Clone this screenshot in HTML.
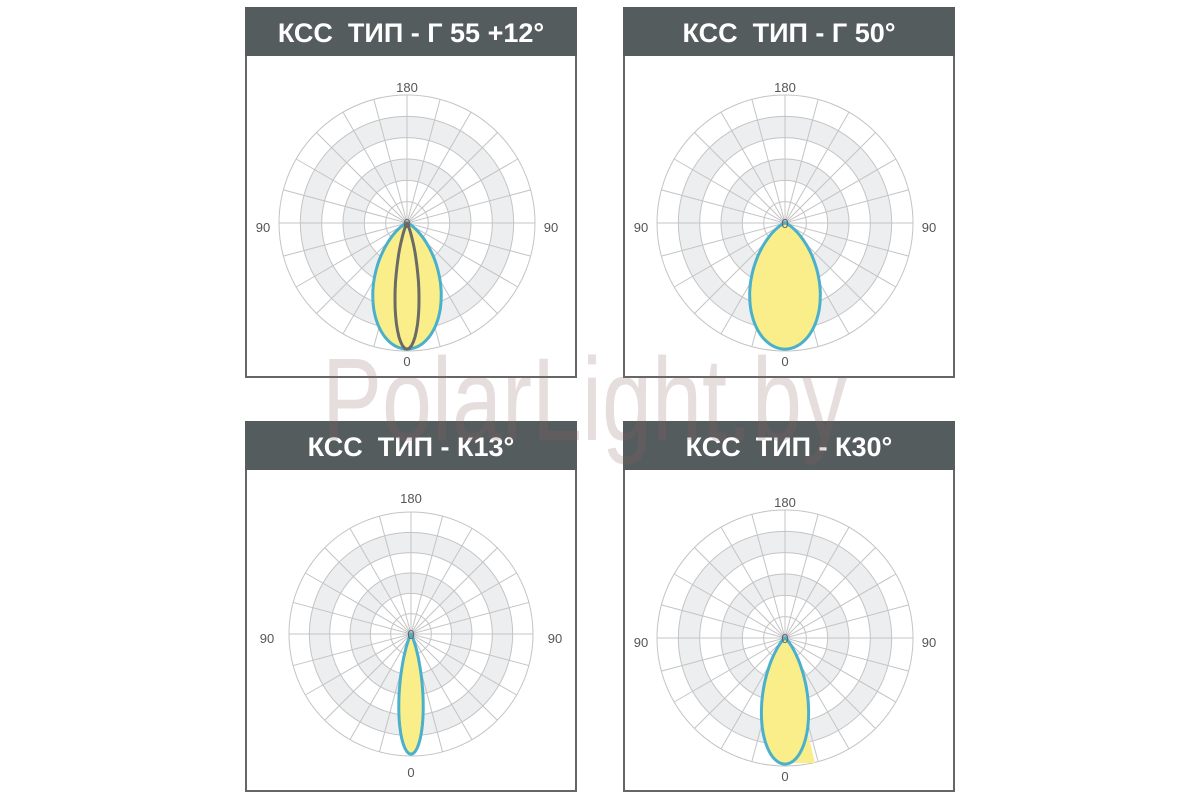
<!DOCTYPE html>
<html><head><meta charset="utf-8"><style>
html,body{margin:0;padding:0;background:#fff;width:1200px;height:800px;overflow:hidden}
svg{display:block}
</style></head><body>
<svg id="s" width="1200" height="800" xmlns="http://www.w3.org/2000/svg" font-family="Liberation Sans, DejaVu Sans, sans-serif"></svg>
<script>
const s=document.getElementById('s');
let h='';
function panel(x,y,title,cx,cy,R,n,extra){
  h+=`<rect x="${x+1}" y="${y+1}" width="330" height="369" fill="#fff" stroke="#666" stroke-width="2"/>`;
  h+=`<rect x="${x}" y="${y}" width="332" height="49" fill="#555c5d"/>`;
  h+=`<text x="${x+166}" y="${y+35}" fill="#fff" font-size="27" font-weight="bold" text-anchor="middle">${title}</text>`;
  const st=R/6;
  // shaded bands
  h+=`<circle cx="${cx}" cy="${cy}" r="${st*4.5}" fill="none" stroke="#eceef0" stroke-width="${st}"/>`;
  h+=`<circle cx="${cx}" cy="${cy}" r="${st*2.5}" fill="none" stroke="#eceef0" stroke-width="${st}"/>`;
  for(let i=1;i<=6;i++)h+=`<circle cx="${cx}" cy="${cy}" r="${st*i}" fill="none" stroke="#c4c4c4" stroke-width="1"/>`;
  for(let a=0;a<180;a+=15){const r=a*Math.PI/180;const dx=R*Math.cos(r),dy=R*Math.sin(r);
    h+=`<line x1="${cx-dx}" y1="${cy-dy}" x2="${cx+dx}" y2="${cy+dy}" stroke="#c4c4c4" stroke-width="1"/>`;}
  function lobe(n,k){let p=[];for(let t=-90;t<=90;t+=1){const r=t*Math.PI/180;const rr=R*k*Math.pow(Math.cos(r),n);p.push((cx+rr*Math.sin(r)).toFixed(1)+','+(cy+rr*Math.cos(r)).toFixed(1));}return p.join(' ');}
  if(extra==='br') h+=`<polygon points="${lobe(n,0.985)} ${cx} ${cy+2} ${cx+30} ${cy+125} ${cx} ${cy+125}" fill="#f9ee8a"/>`;
  h+=`<polygon points="${lobe(n,0.985)}" fill="#f9ee8a" stroke="#4ab0cc" stroke-width="3"/>`;
  if(extra==='tl') h+=`<polygon points="${lobe(40,0.985)}" fill="none" stroke="#6a6a66" stroke-width="3"/>`;
  h+=`<text x="${cx}" y="${cy-131}" fill="#555" font-size="13" text-anchor="middle">180</text>`;
  h+=`<text x="${cx}" y="${cy+143}" fill="#555" font-size="13" text-anchor="middle">0</text>`;
  h+=`<text x="${cx-144}" y="${cy+9}" fill="#555" font-size="13" text-anchor="middle">90</text>`;
  h+=`<text x="${cx+144}" y="${cy+9}" fill="#555" font-size="13" text-anchor="middle">90</text>`;
  h+=`<text x="${cx}" y="${cy+5}" fill="#666" font-size="13" text-anchor="middle">0</text>`;
}
panel(245,7,'КСС&#160;&#160;ТИП - Г 55 +12°',407,223,128,4.5,'tl');
panel(623,7,'КСС&#160;&#160;ТИП - Г 50°',785,223,128,4.2,'');
panel(245,421,'КСС&#160;&#160;ТИП - К13°',411,634,122,35,'');
panel(623,421,'КСС&#160;&#160;ТИП - К30°',785,638,128,10,'br');
h+=`<text x="322" y="440" font-size="118" fill="rgba(140,100,100,0.22)" textLength="525" lengthAdjust="spacingAndGlyphs">PolarLight.by</text>`;
s.innerHTML=h;
</script>
</body></html>
